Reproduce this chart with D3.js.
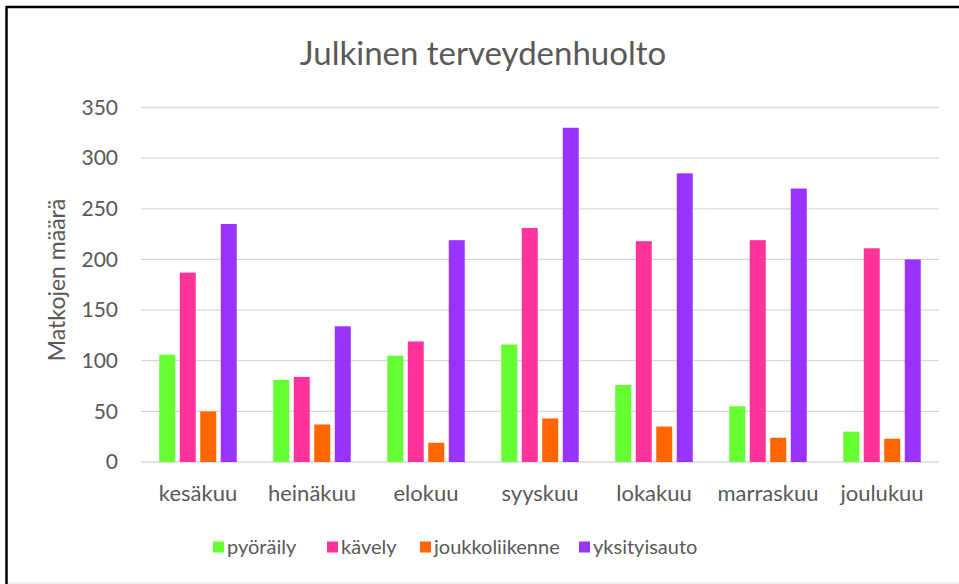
<!DOCTYPE html>
<head>
<meta charset="utf-8">
<title>Julkinen terveydenhuolto</title>
<script src="https://d3js.org/d3.v7.min.js"></script>
<style>
  body { margin: 0; background: #fff; }
  text { font-family: Lato, "Open Sans", sans-serif; fill: #595959; }
</style>
</head>
<body>
<div id="chart"></div>
<script>
// ---- data ----
const months = ["kesäkuu", "heinäkuu", "elokuu", "syyskuu", "lokakuu", "marraskuu", "joulukuu"];
const seriesNames = ["pyöräily", "kävely", "joukkoliikenne", "yksityisauto"];
const pyoraily = [106, 81, 105, 116, 76, 55, 30];
const kavely = [187, 84, 119, 231, 218, 219, 211];
const joukkoliikenne = [50, 37, 19, 43, 35, 24, 23];
const yksityisauto = [235, 134, 219, 330, 285, 270, 200];
const yTicks = [0, 50, 100, 150, 200, 250, 300, 350];
const colors = ["#66ff33", "#ff3399", "#ff6600", "#9933ff"];

const values = [pyoraily, kavely, joukkoliikenne, yksityisauto];

const W = 959, H = 584;
const svg = d3.select("#chart").append("svg")
  .attr("width", W).attr("height", H);

// frame: only top and left edges show, bottom is a faint line
svg.append("line").attr("x1", 6).attr("x2", W).attr("y1", 7).attr("y2", 7)
  .attr("stroke", "#000").attr("stroke-width", 2.5);
svg.append("line").attr("x1", 6.5).attr("x2", 6.5).attr("y1", 6).attr("y2", H)
  .attr("stroke", "#000").attr("stroke-width", 2.5);
svg.append("line").attr("x1", 8).attr("x2", W).attr("y1", H - 1).attr("y2", H - 1)
  .attr("stroke", "#eee").attr("stroke-width", 1.5);

const plot = { left: 141, right: 939, top: 107.5, bottom: 462 };

const x = d3.scaleBand().domain(months).range([plot.left, plot.right]);
const y = d3.scaleLinear().domain([0, 350]).range([plot.bottom, plot.top]);

// grid
svg.append("g").selectAll("line").data(yTicks).join("line")
  .attr("x1", plot.left).attr("x2", plot.right)
  .attr("y1", d => y(d)).attr("y2", d => y(d))
  .attr("stroke", "#d9d9d9").attr("stroke-width", 1.3);

// y tick labels
svg.append("g").selectAll("text").data(yTicks).join("text")
  .attr("x", 118).attr("y", d => y(d)).attr("dy", "0.35em")
  .attr("text-anchor", "end").attr("font-size", 21).text(d => d);

// bars
const barW = 16, barStep = 20.5;
const inner = d3.scaleBand().domain(seriesNames)
  .range([-barStep * 2, barStep * 2]);

seriesNames.forEach((name, si) => {
  svg.append("g").selectAll("rect").data(values[si]).join("rect")
    .attr("x", (d, i) => x(months[i]) + x.bandwidth() / 2 + inner(name) + (barStep - barW) / 2)
    .attr("y", d => y(d))
    .attr("width", barW)
    .attr("height", d => y(0) - y(d))
    .attr("fill", colors[si]);
});

// x labels
svg.append("g").selectAll("text").data(months).join("text")
  .attr("x", d => x(d) + x.bandwidth() / 2).attr("y", 501)
  .attr("text-anchor", "middle").attr("font-size", 22).text(d => d);

// title
svg.append("text").attr("x", 483).attr("y", 65).attr("text-anchor", "middle")
  .attr("font-size", 33).text("Julkinen terveydenhuolto");

// y axis title
svg.append("text").attr("transform", "translate(65," + 280 + ") rotate(-90)")
  .attr("text-anchor", "middle").attr("font-size", 23).text("Matkojen määrä");

// legend
const legend = svg.append("g");
const legendX = [213, 327, 420, 579];
seriesNames.forEach((name, i) => {
  const g = legend.append("g").attr("transform", "translate(" + legendX[i] + ",547)");
  g.append("rect").attr("x", 0).attr("y", -5.5).attr("width", 11).attr("height", 11).attr("fill", colors[i]);
  g.append("text").attr("x", 14).attr("y", 0).attr("dy", "0.35em").attr("font-size", 20).text(name);
});
</script>
</body>
